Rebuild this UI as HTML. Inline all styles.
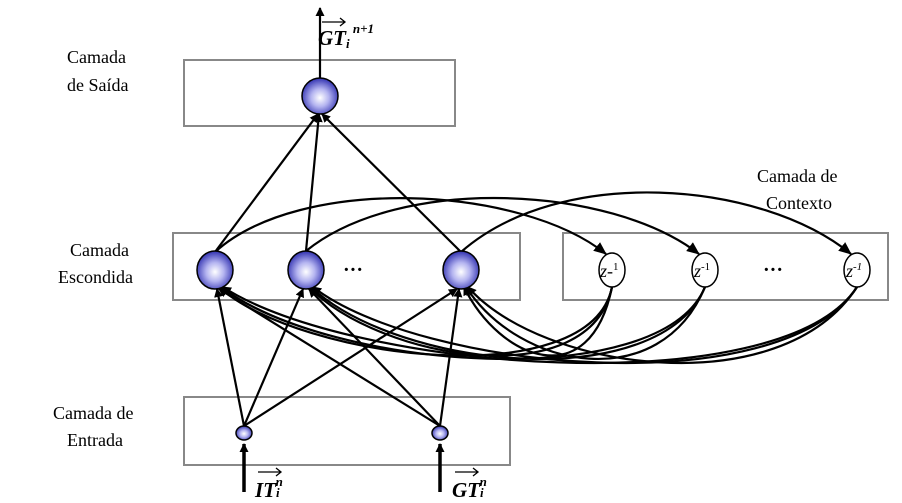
<!DOCTYPE html>
<html><head><meta charset="utf-8"><style>
body{margin:0;background:#fff;}
svg{display:block;font-family:"Liberation Serif",serif;}
</style></head><body>
<svg width="902" height="503" viewBox="0 0 902 503" xmlns="http://www.w3.org/2000/svg">
<defs>
<radialGradient id="g" cx="0.5" cy="0.55" r="0.55">
<stop offset="0" stop-color="#ffffff"/><stop offset="0.45" stop-color="#b4b4f0"/><stop offset="1" stop-color="#3030b0"/>
</radialGradient>
<marker id="a" markerWidth="9" markerHeight="9" refX="8" refY="4.5" orient="auto" markerUnits="userSpaceOnUse" viewBox="0 0 9 9"><path d="M0,0 L9,4.5 L0,9 z" fill="#000"/></marker>
<marker id="b" markerWidth="13" markerHeight="13" refX="12" refY="6.5" orient="auto" markerUnits="userSpaceOnUse" viewBox="0 0 13 13"><path d="M0,1 L13,6.5 L0,12 z" fill="#000"/></marker>
</defs>
<g fill="none" stroke="#888" stroke-width="2">
<rect x="184" y="60" width="271" height="66"/>
<rect x="173" y="233" width="347" height="67"/>
<rect x="563" y="233" width="325" height="67"/>
<rect x="184" y="397" width="326" height="68"/>
</g>
<g font-size="18" fill="#000">
<text x="67" y="63">Camada</text><text x="67" y="91">de Saída</text>
<text x="70" y="256">Camada</text><text x="58" y="283">Escondida</text>
<text x="757" y="182">Camada de</text><text x="766" y="209">Contexto</text>
<text x="53" y="419">Camada de</text><text x="67" y="446">Entrada</text>
</g>
<g stroke="#000" stroke-width="2.2" fill="none">
<line x1="320" y1="78" x2="320" y2="8" marker-end="url(#a)"/>
<line x1="215" y1="252" x2="318" y2="114" marker-end="url(#a)"/>
<line x1="306" y1="251" x2="319" y2="114" marker-end="url(#a)"/>
<line x1="461" y1="252" x2="322" y2="114" marker-end="url(#a)"/>
<line x1="244" y1="426" x2="217" y2="289" marker-end="url(#a)"/>
<line x1="244" y1="426" x2="303" y2="289" marker-end="url(#a)"/>
<line x1="244" y1="426" x2="457" y2="289" marker-end="url(#a)"/>
<line x1="440" y1="426" x2="219" y2="289" marker-end="url(#a)"/>
<line x1="440" y1="426" x2="309" y2="289" marker-end="url(#a)"/>
<line x1="440" y1="426" x2="459" y2="289" marker-end="url(#a)"/>
<line x1="244" y1="492" x2="244" y2="444" stroke-width="3.5" marker-end="url(#a)"/>
<line x1="440" y1="492" x2="440" y2="444" stroke-width="3.5" marker-end="url(#a)"/>
<path d="M215,252 C300,175 520,185 606,254" marker-end="url(#b)"/>
<path d="M306,251 C400,175 610,185 699,254" marker-end="url(#b)"/>
<path d="M461,252 C560,165 760,180 851,254" marker-end="url(#b)"/>
<g>
<path d="M612,287 C590,395 300,360 219,287" marker-end="url(#a)"/>
<path d="M612,287 C590,395 380,360 309,287" marker-end="url(#a)"/>
<path d="M612,287 C590,395 500,360 464,287" marker-end="url(#a)"/>
<path d="M705,287 C660,395 330,370 221,287" marker-end="url(#a)"/>
<path d="M705,287 C660,395 400,370 311,287" marker-end="url(#a)"/>
<path d="M705,287 C660,395 520,370 466,287" marker-end="url(#a)"/>
<path d="M857,287 C780,405 350,370 223,287" marker-end="url(#a)"/>
<path d="M857,287 C780,405 420,370 313,287" marker-end="url(#a)"/>
<path d="M857,287 C780,405 540,370 468,287" marker-end="url(#a)"/>
</g>
</g>
<g stroke="#000" stroke-width="1.5" fill="url(#g)">
<circle cx="320" cy="96" r="18"/>
<ellipse cx="215" cy="270" rx="18" ry="19"/>
<ellipse cx="306" cy="270" rx="18" ry="19"/>
<ellipse cx="461" cy="270" rx="18" ry="19"/>
<ellipse cx="244" cy="433" rx="8" ry="7"/>
<ellipse cx="440" cy="433" rx="8" ry="7"/>
</g>
<g stroke="#000" stroke-width="1.5" fill="#fff">
<ellipse cx="612" cy="270" rx="13" ry="17"/>
<ellipse cx="705" cy="270" rx="13" ry="17"/>
<ellipse cx="857" cy="270" rx="13" ry="17"/>
</g>
<g font-size="18" font-style="italic">
<text x="600" y="277">z-<tspan font-size="11" dy="-7" font-style="normal">1</tspan></text>
<text x="694" y="277">z<tspan font-size="11" dy="-7" font-style="normal">-1</tspan></text>
<text x="846" y="277">z<tspan font-size="11" dy="-7">-1</tspan></text>
</g>
<g font-size="20" font-weight="bold">
<text x="343" y="276">···</text>
<text x="763" y="276">···</text>
</g>
<g font-weight="bold" font-style="italic" font-size="21">
<text x="318" y="45">GT<tspan font-size="13" dy="3">i</tspan><tspan font-size="13" dy="-15"> n+1</tspan></text>
<text x="255" y="497">IT<tspan font-size="13">i</tspan><tspan font-size="13" dx="-4" dy="-11">n</tspan></text>
<text x="452" y="497">GT<tspan font-size="13">i</tspan><tspan font-size="13" dx="-4" dy="-11">n</tspan></text>
</g>
<g stroke="#000" stroke-width="1.3" fill="none">
<path d="M322,22 H345 M340,18 L345,22 L340,26"/>
<path d="M258,472 H281 M276,468 L281,472 L276,476"/>
<path d="M455,472 H478 M473,468 L478,472 L473,476"/>
</g>
</svg>
</body></html>
